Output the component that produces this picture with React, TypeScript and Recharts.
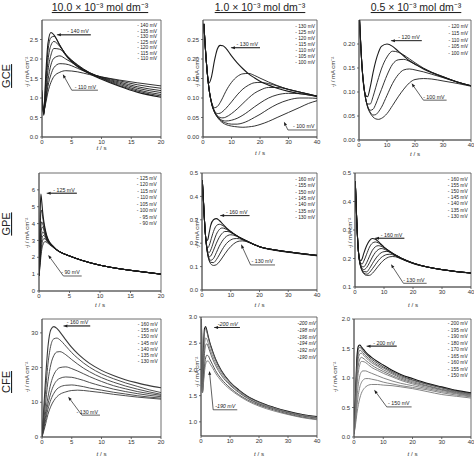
import React from "react";
import { LineChart, Line, XAxis, YAxis, ReferenceArea, ReferenceLine } from "recharts";

const FONT = "Arial, 'Liberation Sans', Helvetica, sans-serif";
const INK = "#1c1c1c";
const FRAME = "#4a4a4a";

// ---- GCE, 10.0 mM ----
const gce10T = [0, 0.3, 0.6, 1, 1.5, 2, 3, 4, 6, 8, 10, 13, 16, 20];
const gce10Mv = [140, 135, 130, 125, 120, 115, 110];
const gce10_140 = [1.2, 0.55, 1.5, 2.4, 2.68, 2.62, 2.35, 2.1, 1.8, 1.62, 1.48, 1.3, 1.15, 1.02];
const gce10_135 = [1.15, 0.58, 1.35, 2.2, 2.55, 2.58, 2.35, 2.12, 1.82, 1.63, 1.5, 1.32, 1.18, 1.05];
const gce10_130 = [1.1, 0.6, 1.2, 1.95, 2.35, 2.45, 2.32, 2.12, 1.84, 1.64, 1.51, 1.35, 1.21, 1.09];
const gce10_125 = [1.05, 0.62, 1.05, 1.7, 2.1, 2.27, 2.25, 2.1, 1.85, 1.65, 1.52, 1.38, 1.25, 1.14];
const gce10_120 = [1.0, 0.64, 0.95, 1.45, 1.85, 2.02, 2.08, 2.0, 1.82, 1.65, 1.53, 1.41, 1.29, 1.19];
const gce10_115 = [0.95, 0.66, 0.9, 1.3, 1.6, 1.78, 1.88, 1.87, 1.76, 1.63, 1.54, 1.44, 1.34, 1.25];
const gce10_110 = [0.9, 0.68, 0.85, 1.15, 1.4, 1.55, 1.66, 1.7, 1.67, 1.6, 1.54, 1.46, 1.39, 1.31];

// ---- GCE, 1.0 mM ----
const gce1T = [0.3, 1, 2, 3, 4, 5, 6, 7, 8, 10, 12, 14, 16, 18, 20, 23, 26, 30, 34, 37, 40];
const gce1Mv = [130, 125, 120, 115, 110, 105, 100];
const gce1_130 = [0.29, 0.21, 0.138, 0.155, 0.195, 0.225, 0.235, 0.234, 0.228, 0.208, 0.19, 0.175, 0.162, 0.152, 0.143, 0.133, 0.125, 0.117, 0.111, 0.108, 0.105];
const gce1_125 = [0.29, 0.21, 0.13, 0.09, 0.075, 0.078, 0.088, 0.102, 0.117, 0.14, 0.155, 0.162, 0.163, 0.158, 0.151, 0.141, 0.132, 0.122, 0.115, 0.11, 0.105];
const gce1_120 = [0.29, 0.21, 0.13, 0.088, 0.068, 0.06, 0.061, 0.066, 0.073, 0.09, 0.108, 0.123, 0.133, 0.139, 0.14, 0.137, 0.131, 0.122, 0.115, 0.11, 0.105];
const gce1_115 = [0.29, 0.21, 0.13, 0.087, 0.066, 0.055, 0.05, 0.049, 0.051, 0.06, 0.072, 0.086, 0.1, 0.112, 0.12, 0.127, 0.127, 0.122, 0.115, 0.11, 0.104];
const gce1_110 = [0.29, 0.21, 0.13, 0.087, 0.065, 0.053, 0.046, 0.042, 0.041, 0.043, 0.048, 0.056, 0.066, 0.077, 0.087, 0.1, 0.108, 0.112, 0.111, 0.108, 0.103];
const gce1_105 = [0.29, 0.21, 0.13, 0.087, 0.064, 0.052, 0.044, 0.039, 0.036, 0.033, 0.033, 0.036, 0.042, 0.05, 0.058, 0.072, 0.084, 0.095, 0.1, 0.1, 0.099];
const gce1_100 = [0.29, 0.21, 0.13, 0.086, 0.064, 0.051, 0.042, 0.036, 0.032, 0.028, 0.026, 0.025, 0.026, 0.028, 0.032, 0.04, 0.05, 0.063, 0.076, 0.086, 0.093];

// ---- GCE, 0.5 mM ----
const gce05T = [0.2, 1, 2, 3, 4, 5, 6, 7, 8, 10, 12, 14, 16, 18, 20, 23, 26, 30, 35, 40];
const gce05Mv = [120, 115, 110, 105, 100];
const gce05_120 = [0.25, 0.16, 0.1, 0.09, 0.11, 0.14, 0.165, 0.183, 0.195, 0.2, 0.195, 0.185, 0.175, 0.165, 0.158, 0.148, 0.14, 0.131, 0.121, 0.113];
const gce05_115 = [0.25, 0.16, 0.1, 0.075, 0.075, 0.09, 0.11, 0.13, 0.148, 0.173, 0.185, 0.183, 0.177, 0.169, 0.161, 0.15, 0.141, 0.132, 0.121, 0.113];
const gce05_110 = [0.25, 0.16, 0.1, 0.072, 0.062, 0.064, 0.075, 0.09, 0.105, 0.135, 0.158, 0.167, 0.168, 0.164, 0.158, 0.149, 0.141, 0.132, 0.121, 0.113];
const gce05_105 = [0.25, 0.16, 0.1, 0.071, 0.058, 0.052, 0.053, 0.059, 0.068, 0.093, 0.118, 0.136, 0.146, 0.148, 0.146, 0.142, 0.137, 0.13, 0.121, 0.113];
const gce05_100 = [0.25, 0.16, 0.1, 0.07, 0.056, 0.048, 0.044, 0.043, 0.045, 0.055, 0.072, 0.09, 0.106, 0.119, 0.126, 0.128, 0.127, 0.123, 0.118, 0.112];

// ---- GPE, 10.0 mM ----
const gpe10T = [0, 0.15, 0.3, 0.45, 0.6, 0.8, 1, 1.3, 1.7, 2.2, 3, 4, 5, 7, 10, 13, 16, 20];
const gpe10Mv = [125, 120, 115, 110, 105, 100, 95, 90];
const gpe10_125 = [0.9, 4.0, 5.75, 5.3, 4.7, 4.1, 3.7, 3.25, 2.92, 2.7, 2.42, 2.22, 2.08, 1.82, 1.53, 1.33, 1.18, 1.0];
const gpe10_120 = [0.9, 3.0, 4.6, 4.8, 4.4, 3.95, 3.6, 3.2, 2.9, 2.69, 2.42, 2.22, 2.08, 1.82, 1.53, 1.33, 1.18, 1.0];
const gpe10_115 = [0.9, 2.5, 3.8, 4.1, 4.0, 3.75, 3.5, 3.15, 2.88, 2.68, 2.42, 2.22, 2.08, 1.82, 1.53, 1.33, 1.18, 1.0];
const gpe10_110 = [0.9, 2.2, 3.3, 3.75, 3.8, 3.6, 3.4, 3.1, 2.86, 2.67, 2.42, 2.22, 2.08, 1.82, 1.53, 1.33, 1.18, 1.0];
const gpe10_105 = [0.9, 2.0, 2.9, 3.35, 3.5, 3.45, 3.3, 3.05, 2.84, 2.66, 2.42, 2.22, 2.08, 1.82, 1.53, 1.33, 1.18, 1.0];
const gpe10_100 = [0.9, 1.8, 2.6, 3.05, 3.25, 3.3, 3.2, 3.0, 2.82, 2.65, 2.42, 2.22, 2.08, 1.82, 1.53, 1.33, 1.18, 1.0];
const gpe10_95 = [0.9, 1.6, 2.3, 2.75, 3.0, 3.1, 3.1, 2.95, 2.8, 2.64, 2.41, 2.22, 2.08, 1.82, 1.53, 1.33, 1.18, 1.0];
const gpe10_90 = [0.9, 1.4, 2.0, 2.45, 2.7, 2.88, 2.93, 2.88, 2.76, 2.62, 2.4, 2.21, 2.07, 1.82, 1.53, 1.33, 1.18, 1.0];

// ---- GPE, 1.0 mM ----
const gpe1T = [0.1, 0.5, 1, 1.5, 2, 2.5, 3, 4, 5, 6, 7, 8, 9, 10, 11, 12, 13, 14, 16, 18, 20, 25, 30, 35, 40];
const gpe1Mv = [160, 155, 150, 145, 140, 135, 130];
const gpe1_160 = [0.47, 0.38, 0.27, 0.21, 0.215, 0.245, 0.275, 0.3, 0.305, 0.297, 0.285, 0.272, 0.26, 0.25, 0.241, 0.233, 0.225, 0.219, 0.207, 0.195, 0.185, 0.172, 0.163, 0.155, 0.148];
const gpe1_155 = [0.47, 0.38, 0.27, 0.2, 0.18, 0.19, 0.21, 0.25, 0.275, 0.281, 0.277, 0.268, 0.258, 0.249, 0.241, 0.233, 0.225, 0.219, 0.207, 0.195, 0.185, 0.172, 0.163, 0.155, 0.148];
const gpe1_150 = [0.47, 0.38, 0.27, 0.198, 0.165, 0.16, 0.17, 0.205, 0.238, 0.258, 0.265, 0.262, 0.255, 0.247, 0.24, 0.232, 0.225, 0.219, 0.207, 0.195, 0.185, 0.172, 0.163, 0.155, 0.148];
const gpe1_145 = [0.47, 0.38, 0.27, 0.197, 0.158, 0.142, 0.145, 0.17, 0.2, 0.225, 0.242, 0.25, 0.25, 0.245, 0.239, 0.232, 0.225, 0.218, 0.206, 0.195, 0.185, 0.172, 0.163, 0.155, 0.148];
const gpe1_140 = [0.47, 0.38, 0.27, 0.196, 0.155, 0.134, 0.127, 0.135, 0.16, 0.187, 0.208, 0.224, 0.233, 0.236, 0.234, 0.23, 0.224, 0.218, 0.206, 0.195, 0.185, 0.172, 0.163, 0.155, 0.148];
const gpe1_135 = [0.47, 0.38, 0.27, 0.195, 0.152, 0.128, 0.118, 0.117, 0.13, 0.15, 0.172, 0.191, 0.205, 0.214, 0.219, 0.22, 0.219, 0.215, 0.205, 0.194, 0.185, 0.171, 0.162, 0.154, 0.147];
const gpe1_130 = [0.47, 0.38, 0.27, 0.195, 0.15, 0.125, 0.112, 0.105, 0.108, 0.12, 0.137, 0.155, 0.172, 0.186, 0.197, 0.205, 0.209, 0.21, 0.205, 0.194, 0.184, 0.17, 0.161, 0.153, 0.146];

// ---- GPE, 0.5 mM ----
const gpe05T = [0.1, 0.5, 1, 1.5, 2, 2.5, 3, 4, 5, 6, 7, 8, 9, 10, 11, 12, 13, 14, 16, 18, 20, 25, 30, 35, 40];
const gpe05Mv = [160, 155, 150, 145, 140, 135, 130];
const gpe05_160 = [0.47, 0.36, 0.25, 0.2, 0.192, 0.2, 0.217, 0.245, 0.263, 0.27, 0.268, 0.26, 0.25, 0.24, 0.232, 0.225, 0.218, 0.212, 0.201, 0.192, 0.184, 0.17, 0.161, 0.154, 0.149];
const gpe05_155 = [0.47, 0.36, 0.25, 0.198, 0.182, 0.181, 0.19, 0.215, 0.24, 0.254, 0.258, 0.255, 0.248, 0.24, 0.232, 0.225, 0.218, 0.212, 0.201, 0.192, 0.184, 0.17, 0.161, 0.154, 0.149];
const gpe05_150 = [0.47, 0.36, 0.25, 0.197, 0.178, 0.171, 0.171, 0.185, 0.208, 0.229, 0.241, 0.245, 0.243, 0.237, 0.231, 0.224, 0.218, 0.212, 0.201, 0.192, 0.184, 0.17, 0.161, 0.154, 0.149];
const gpe05_145 = [0.47, 0.36, 0.25, 0.196, 0.175, 0.164, 0.161, 0.168, 0.185, 0.205, 0.221, 0.231, 0.235, 0.233, 0.228, 0.222, 0.216, 0.21, 0.2, 0.191, 0.184, 0.17, 0.161, 0.154, 0.149];
const gpe05_140 = [0.47, 0.36, 0.25, 0.195, 0.172, 0.16, 0.154, 0.153, 0.165, 0.182, 0.198, 0.211, 0.22, 0.224, 0.225, 0.222, 0.217, 0.211, 0.2, 0.191, 0.183, 0.17, 0.161, 0.154, 0.149];
const gpe05_135 = [0.47, 0.36, 0.25, 0.195, 0.17, 0.157, 0.149, 0.145, 0.151, 0.164, 0.178, 0.192, 0.203, 0.21, 0.214, 0.215, 0.213, 0.209, 0.199, 0.19, 0.183, 0.17, 0.161, 0.154, 0.149];
const gpe05_130 = [0.47, 0.36, 0.25, 0.194, 0.169, 0.155, 0.147, 0.141, 0.141, 0.148, 0.16, 0.173, 0.185, 0.195, 0.202, 0.206, 0.207, 0.206, 0.198, 0.19, 0.182, 0.17, 0.161, 0.154, 0.149];

// ---- CFE, 10.0 mM ----
const cfe10T = [0, 0.5, 1, 1.5, 2, 2.5, 3, 4, 5, 6, 7, 8, 10, 12, 14, 16, 18, 20];
const cfe10Mv = [160, 155, 150, 145, 140, 135, 130];
const cfe10_160 = [0, 14, 26, 31, 31.8, 31.3, 30.3, 28, 25.8, 24, 22.5, 21.2, 19.2, 17.7, 16.5, 15.6, 14.8, 14.2];
const cfe10_155 = [0, 11, 21, 26.5, 28.3, 28.5, 28, 26.2, 24.3, 22.7, 21.3, 20.1, 18.2, 16.8, 15.6, 14.6, 13.6, 12.8];
const cfe10_150 = [0, 8, 16, 21, 23.5, 24.5, 24.6, 23.7, 22.3, 21, 19.8, 18.8, 17.1, 15.8, 14.7, 13.8, 13.0, 12.3];
const cfe10_145 = [0, 6, 11.5, 15.5, 18, 19.4, 20, 20.2, 19.7, 19, 18.2, 17.4, 16, 14.8, 13.9, 13.1, 12.5, 12.0];
const cfe10_140 = [0, 5, 9.5, 12.8, 15, 16.3, 16.9, 17.3, 17.2, 16.8, 16.3, 15.7, 14.7, 13.8, 13.1, 12.5, 12.0, 11.6];
const cfe10_135 = [0, 4, 8, 10.8, 12.6, 13.8, 14.4, 14.9, 15, 14.8, 14.5, 14.1, 13.5, 12.9, 12.4, 11.9, 11.5, 11.2];
const cfe10_130 = [0, 3, 6.5, 8.9, 10.5, 11.6, 12.3, 13, 13.4, 13.5, 13.4, 13.2, 12.8, 12.3, 11.9, 11.5, 11.2, 10.9];

// ---- CFE, 1.0 mM ----
const cfe1T = [0.15, 0.5, 0.8, 1.2, 1.6, 2, 2.5, 3, 4, 5, 7, 10, 13, 16, 20, 25, 30, 35, 40];
const cfe1Mv = [200, 198, 196, 194, 192, 190];
const cfe1_200 = [2.95, 1.6, 2.3, 2.78, 2.82, 2.75, 2.63, 2.52, 2.35, 2.2, 1.98, 1.76, 1.61, 1.49, 1.38, 1.28, 1.2, 1.14, 1.1];
const cfe1_198 = [2.95, 1.6, 2.2, 2.7, 2.78, 2.72, 2.6, 2.5, 2.33, 2.19, 1.97, 1.75, 1.6, 1.48, 1.37, 1.27, 1.19, 1.13, 1.09];
const cfe1_196 = [2.95, 1.58, 2.0, 2.45, 2.6, 2.58, 2.5, 2.41, 2.26, 2.13, 1.93, 1.72, 1.58, 1.46, 1.35, 1.26, 1.18, 1.12, 1.08];
const cfe1_194 = [2.95, 1.57, 1.9, 2.3, 2.46, 2.49, 2.43, 2.35, 2.2, 2.08, 1.89, 1.7, 1.56, 1.45, 1.34, 1.25, 1.17, 1.11, 1.07];
const cfe1_192 = [2.95, 1.56, 1.75, 2.05, 2.22, 2.27, 2.26, 2.2, 2.09, 1.98, 1.82, 1.65, 1.52, 1.42, 1.32, 1.23, 1.15, 1.09, 1.05];
const cfe1_190 = [2.95, 1.55, 1.7, 1.95, 2.1, 2.16, 2.16, 2.12, 2.03, 1.93, 1.78, 1.62, 1.5, 1.4, 1.3, 1.21, 1.14, 1.08, 1.04];

// ---- CFE, 0.5 mM ----
const cfe05T = [0, 0.5, 1, 1.5, 2, 2.5, 3, 4, 5, 6, 8, 10, 13, 16, 20, 25, 30, 35, 40];
const cfe05Mv = [200, 195, 190, 180, 170, 165, 160, 155, 150];
const cfe05_200 = [0.05, 0.7, 1.35, 1.54, 1.56, 1.53, 1.5, 1.44, 1.39, 1.35, 1.28, 1.22, 1.13, 1.06, 0.99, 0.91, 0.85, 0.79, 0.75];
const cfe05_195 = [0.05, 0.62, 1.27, 1.49, 1.52, 1.5, 1.47, 1.41, 1.36, 1.32, 1.25, 1.19, 1.11, 1.04, 0.97, 0.9, 0.84, 0.78, 0.74];
const cfe05_190 = [0.05, 0.55, 1.18, 1.41, 1.47, 1.46, 1.43, 1.38, 1.33, 1.29, 1.22, 1.17, 1.09, 1.02, 0.96, 0.89, 0.83, 0.77, 0.73];
const cfe05_180 = [0.05, 0.5, 1.08, 1.33, 1.41, 1.42, 1.4, 1.35, 1.3, 1.26, 1.2, 1.14, 1.07, 1.0, 0.94, 0.87, 0.81, 0.76, 0.72];
const cfe05_170 = [0.05, 0.44, 0.96, 1.22, 1.32, 1.35, 1.34, 1.3, 1.26, 1.22, 1.16, 1.11, 1.04, 0.98, 0.92, 0.86, 0.8, 0.75, 0.71];
const cfe05_165 = [0.05, 0.38, 0.85, 1.1, 1.23, 1.28, 1.28, 1.26, 1.22, 1.18, 1.13, 1.08, 1.02, 0.96, 0.9, 0.84, 0.79, 0.74, 0.7];
const cfe05_160 = [0.05, 0.3, 0.66, 0.9, 1.04, 1.1, 1.12, 1.12, 1.1, 1.08, 1.04, 1.0, 0.95, 0.91, 0.87, 0.82, 0.77, 0.73, 0.69];
const cfe05_155 = [0.05, 0.25, 0.52, 0.72, 0.85, 0.92, 0.96, 0.99, 0.99, 0.98, 0.96, 0.93, 0.9, 0.87, 0.84, 0.8, 0.75, 0.71, 0.68];
const cfe05_150 = [0.05, 0.2, 0.4, 0.55, 0.66, 0.74, 0.79, 0.85, 0.88, 0.89, 0.89, 0.88, 0.87, 0.85, 0.82, 0.77, 0.72, 0.69, 0.66];

type Pt = [number, number];
type Note = { tip: Pt; bend?: Pt; end: Pt; text: string };
type Panel = {
  box: { l: number; t: number; r: number; b: number };
  xMax: number;
  xTicks: number[];
  yDomain: [number, number];
  yTicks: number[];
  yDigits: number;
  times: number[];
  mv: number[];
  series: number[][];
  colors?: string[];
  legend: { x: number; y: number; step: number; tight?: boolean };
  yLabel: { x: number; y: number };
  xLabelY: number;
  notes: Note[];
  italic?: boolean;
};

const panels: Panel[] = [
  {
    box: { l: 42, t: 20, r: 161, b: 137 },
    xMax: 20, xTicks: [0, 5, 10, 15, 20],
    yDomain: [0, 3], yTicks: [0, 0.5, 1, 1.5, 2, 2.5], yDigits: 1,
    times: gce10T, mv: gce10Mv,
    series: [gce10_140, gce10_135, gce10_130, gce10_125, gce10_120, gce10_115, gce10_110],
    legend: { x: 157, y: 27, step: 5.55 },
    yLabel: { x: 29, y: 72 }, xLabelY: 150,
    notes: [
      { tip: [2.5, 2.62], end: [8.2, 2.62], text: "- 140 mV" },
      { tip: [3.5, 1.61], bend: [5.0, 1.2], end: [9.4, 1.2], text: "- 110 mV" },
    ],
  },
  {
    box: { l: 203, t: 20, r: 317, b: 137 },
    xMax: 40, xTicks: [0, 10, 20, 30, 40],
    yDomain: [0, 0.3], yTicks: [0, 0.05, 0.1, 0.15, 0.2, 0.25], yDigits: 2,
    times: gce1T, mv: gce1Mv,
    series: [gce1_130, gce1_125, gce1_120, gce1_115, gce1_110, gce1_105, gce1_100],
    legend: { x: 315, y: 27.7, step: 6 },
    yLabel: { x: 199, y: 72 }, xLabelY: 155,
    notes: [
      { tip: [9.8, 0.229], end: [20, 0.229], text: "- 130 mV" },
      { tip: [28.4, 0.039], bend: [29.8, 0.018], end: [39.8, 0.018], text: "- 100 mV" },
    ],
  },
  {
    box: { l: 359, t: 20, r: 471, b: 140 },
    xMax: 40, xTicks: [0, 10, 20, 30, 40],
    yDomain: [0, 0.25], yTicks: [0, 0.05, 0.1, 0.15, 0.2], yDigits: 2,
    times: gce05T, mv: gce05Mv,
    series: [gce05_120, gce05_115, gce05_110, gce05_105, gce05_100],
    legend: { x: 468, y: 28, step: 6.8 },
    yLabel: { x: 335, y: 72 }, xLabelY: 156,
    notes: [
      { tip: [11.4, 0.207], end: [22.4, 0.207], text: "- 120 mV" },
      { tip: [18.8, 0.118], bend: [23, 0.083], end: [31.3, 0.083], text: "- 100 mV" },
    ],
  },
  {
    box: { l: 39, t: 173, r: 161, b: 291 },
    xMax: 20, xTicks: [0, 5, 10, 15, 20],
    yDomain: [0, 7], yTicks: [0, 1, 2, 3, 4, 5, 6], yDigits: 0,
    times: gpe10T, mv: gpe10Mv,
    series: [gpe10_125, gpe10_120, gpe10_115, gpe10_110, gpe10_105, gpe10_100, gpe10_95, gpe10_90],
    legend: { x: 156.7, y: 179.7, step: 6.5 },
    yLabel: { x: 29, y: 233 }, xLabelY: 307,
    notes: [
      { tip: [1.26, 5.8], end: [6.2, 5.8], text: "- 125 mV" },
      { tip: [1.5, 2.14], bend: [4.0, 0.89], end: [7.0, 0.89], text: "- 90 mV" },
    ],
  },
  {
    box: { l: 202, t: 173, r: 317, b: 290 },
    xMax: 40, xTicks: [0, 10, 20, 30, 40],
    yDomain: [0, 0.5], yTicks: [0, 0.1, 0.2, 0.3, 0.4, 0.5], yDigits: 1,
    times: gpe1T, mv: gpe1Mv,
    series: [gpe1_160, gpe1_155, gpe1_150, gpe1_145, gpe1_140, gpe1_135, gpe1_130],
    legend: { x: 315, y: 181, step: 6.3 },
    yLabel: { x: 199, y: 233 }, xLabelY: 307,
    notes: [
      { tip: [6.3, 0.318], end: [16.5, 0.318], text: "- 160 mV" },
      { tip: [13.6, 0.195], bend: [16.9, 0.107], end: [25.4, 0.107], text: "- 130 mV" },
    ],
  },
  {
    box: { l: 355, t: 173, r: 471, b: 287 },
    xMax: 40, xTicks: [0, 10, 20, 30, 40],
    yDomain: [0.1, 0.5], yTicks: [0.1, 0.2, 0.3, 0.4, 0.5], yDigits: 1,
    times: gpe05T, mv: gpe05Mv,
    series: [gpe05_160, gpe05_155, gpe05_150, gpe05_145, gpe05_140, gpe05_135, gpe05_130],
    legend: { x: 467.7, y: 181, step: 6.1 },
    yLabel: { x: 352, y: 233 }, xLabelY: 307,
    notes: [
      { tip: [6.9, 0.271], end: [17, 0.271], text: "- 160 mV" },
      { tip: [12.4, 0.18], bend: [16.7, 0.113], end: [24.7, 0.113], text: "- 130 mV" },
    ],
  },
  {
    box: { l: 42, t: 319, r: 161, b: 437 },
    xMax: 20, xTicks: [0, 5, 10, 15, 20],
    yDomain: [0, 34], yTicks: [0, 10, 20, 30], yDigits: 0,
    times: cfe10T, mv: cfe10Mv,
    series: [cfe10_160, cfe10_155, cfe10_150, cfe10_145, cfe10_140, cfe10_135, cfe10_130],
    colors: ["#3a3a3a", "#3a3a3a", "#3a3a3a", "#3a3a3a", "#3a3a3a", "#3a3a3a", "#3a3a3a"],
    legend: { x: 157.7, y: 326, step: 6.2 },
    yLabel: { x: 29, y: 377 }, xLabelY: 456,
    notes: [
      { tip: [3.6, 32], end: [8.1, 32], text: "- 160 mV" },
      { tip: [4.4, 11.6], bend: [6.7, 6.3], end: [9.75, 6.3], text: "- 130 mV" },
    ],
  },
  {
    box: { l: 201, t: 317, r: 317, b: 436 },
    xMax: 40, xTicks: [0, 10, 20, 30, 40],
    yDomain: [0.73, 3], yTicks: [1, 1.5, 2, 2.5, 3], yDigits: 1,
    times: cfe1T, mv: cfe1Mv,
    series: [cfe1_200, cfe1_198, cfe1_196, cfe1_194, cfe1_192, cfe1_190],
    colors: ["#111", "#666", "#777", "#555", "#444", "#777"],
    legend: { x: 316, y: 325.3, step: 6.7, tight: true },
    yLabel: { x: 199, y: 372 }, xLabelY: 456,
    italic: true,
    notes: [
      { tip: [4.5, 2.8], end: [13.4, 2.8], text: "-200 mV" },
      { tip: [2.9, 1.97], bend: [4.2, 1.23], end: [12.5, 1.23], text: "-190 mV" },
    ],
  },
  {
    box: { l: 354, t: 319, r: 471, b: 437 },
    xMax: 40, xTicks: [0, 10, 20, 30, 40],
    yDomain: [0, 2], yTicks: [0, 0.5, 1, 1.5, 2], yDigits: 1,
    times: cfe05T, mv: cfe05Mv,
    series: [cfe05_200, cfe05_195, cfe05_190, cfe05_180, cfe05_170, cfe05_165, cfe05_160, cfe05_155, cfe05_150],
    colors: ["#111", "#333", "#555", "#666", "#666", "#777", "#777", "#777", "#777"],
    legend: { x: 467.7, y: 325.3, step: 6.46 },
    yLabel: { x: 337, y: 377 }, xLabelY: 456,
    notes: [
      { tip: [4.3, 1.54], end: [14.6, 1.54], text: "- 200 mV" },
      { tip: [6.9, 0.8], bend: [11.2, 0.51], end: [19.7, 0.51], text: "- 150 mV" },
    ],
  },
];

const titles = [
  { x: 100, text: "10.0 × 10⁻³ mol dm⁻³" },
  { x: 260, text: "1.0 × 10⁻³ mol dm⁻³" },
  { x: 416, text: "0.5 × 10⁻³ mol dm⁻³" },
];
const rows = [
  { y: 76, text: "GCE" },
  { y: 224, text: "GPE" },
  { y: 382, text: "CFE" },
];

const Y_W = 28;
const M_T = 4;
const M_R = 4;
const X_H = 14;

function ArrowSeg(props: any) {
  const { x1, y1, x2, y2 } = props;
  const a = Math.atan2(y1 - y2, x1 - x2);
  const len = 4;
  const w = 1.5;
  const bx = x1 - len * Math.cos(a);
  const by = y1 - len * Math.sin(a);
  const px = -Math.sin(a) * w;
  const py = Math.cos(a) * w;
  return (
    <g>
      <line x1={bx} y1={by} x2={x2} y2={y2} stroke={INK} strokeWidth={0.7} />
      <polygon points={`${x1},${y1} ${bx + px},${by + py} ${bx - px},${by - py}`} fill={INK} />
    </g>
  );
}

function TextSeg(props: any) {
  const { x1, y1, x2, y2, text, italic } = props;
  return (
    <g>
      <line x1={x1} y1={y1} x2={x2} y2={y2} stroke={INK} strokeWidth={0.7} />
      <text
        x={x2 - 2}
        y={y2 - 1.6}
        textAnchor="end"
        fontSize={5.3}
        fontStyle={italic ? "italic" : "normal"}
        fontFamily={FONT}
        fill={INK}
      >
        {text}
      </text>
    </g>
  );
}

function PanelChart({ p }: { p: Panel }) {
  const w = p.box.r - p.box.l + Y_W + M_R;
  const h = p.box.b - p.box.t + M_T + X_H;
  const tick = { fontSize: 6, fill: "#333", fontFamily: FONT };
  return (
    <div style={{ position: "absolute", left: p.box.l - Y_W, top: p.box.t - M_T }}>
      <LineChart width={w} height={h} margin={{ top: M_T, right: M_R, bottom: 0, left: 0 }}>
        <XAxis
          type="number"
          dataKey="t"
          domain={[0, p.xMax]}
          ticks={p.xTicks}
          allowDataOverflow
          height={X_H}
          tickSize={2}
          tickMargin={1}
          tick={tick}
          stroke={FRAME}
          strokeWidth={0.8}
          interval={0}
        />
        <YAxis
          type="number"
          domain={p.yDomain}
          ticks={p.yTicks}
          allowDataOverflow
          width={Y_W}
          tickSize={2}
          tickMargin={2}
          tick={tick}
          stroke={FRAME}
          strokeWidth={0.8}
          interval={0}
          tickFormatter={(v: number) => v.toFixed(p.yDigits)}
        />
        <ReferenceArea
          x1={0}
          x2={p.xMax}
          y1={p.yDomain[0]}
          y2={p.yDomain[1]}
          fill="none"
          fillOpacity={0}
          stroke={FRAME}
          strokeWidth={0.8}
          ifOverflow="visible"
        />
        {p.series.map((vals, i) => (
          <Line
            key={p.mv[i]}
            data={p.times.map((t, k) => ({ t, j: vals[k] }))}
            dataKey="j"
            type="monotone"
            dot={false}
            stroke={p.colors ? p.colors[i] : INK}
            strokeWidth={i === 0 ? 1.1 : 0.9}
            isAnimationActive={false}
          />
        ))}
        {p.notes.map((n, i) => (
          <ReferenceLine
            key={"a" + i}
            segment={[
              { x: n.tip[0], y: n.tip[1] },
              { x: (n.bend ?? n.end)[0], y: (n.bend ?? n.end)[1] },
            ]}
            ifOverflow="visible"
            shape={(sp: any) => <ArrowSeg {...sp} />}
          />
        ))}
        {p.notes.map((n, i) => (
          <ReferenceLine
            key={"t" + i}
            segment={[
              { x: (n.bend ?? n.tip)[0], y: (n.bend ?? n.tip)[1] },
              { x: n.end[0], y: n.end[1] },
            ]}
            ifOverflow="visible"
            shape={(sp: any) => <TextSeg {...sp} text={n.text} italic={p.italic} />}
          />
        ))}
      </LineChart>
    </div>
  );
}

export default function App() {
  return (
    <div
      style={{
        position: "absolute",
        left: 0,
        top: 0,
        width: 474,
        height: 457,
        background: "#fff",
        overflow: "hidden",
        fontFamily: FONT,
      }}
    >
      {panels.map((p, i) => (
        <PanelChart key={i} p={p} />
      ))}
      <svg
        width={474}
        height={457}
        style={{ position: "absolute", left: 0, top: 0, pointerEvents: "none" }}
      >
        {titles.map((t) => (
          <text
            key={t.text}
            x={t.x}
            y={11}
            textAnchor="middle"
            fontSize={10.5}
            fontFamily={FONT}
            fill="#222"
            textDecoration="underline"
          >
            {t.text}
          </text>
        ))}
        {rows.map((r) => (
          <text
            key={r.text}
            transform={`translate(10,${r.y}) rotate(-90)`}
            textAnchor="middle"
            fontSize={11}
            fontFamily={FONT}
            fill="#222"
            textDecoration="underline"
          >
            {r.text}
          </text>
        ))}
        {panels.map((p, i) => (
          <g key={"lab" + i}>
            <text
              x={(p.box.l + p.box.r) / 2}
              y={p.xLabelY}
              textAnchor="middle"
              fontSize={6.2}
              fontFamily={FONT}
              fill="#333"
            >
              <tspan fontStyle="italic">t</tspan> / s
            </text>
            <text
              transform={`translate(${p.yLabel.x},${p.yLabel.y}) rotate(-90)`}
              textAnchor="middle"
              fontSize={6}
              fontFamily={FONT}
              fill="#333"
            >
              -<tspan fontStyle="italic">j</tspan> / mA cm⁻²
            </text>
            {p.mv.map((m, k) => (
              <text
                key={m}
                x={p.legend.x}
                y={p.legend.y + k * p.legend.step}
                textAnchor="end"
                fontSize={4.9}
                fontStyle={p.italic ? "italic" : "normal"}
                fontFamily={FONT}
                fill="#222"
              >
                {p.legend.tight ? `-${m} mV` : `- ${m} mV`}
              </text>
            ))}
          </g>
        ))}
      </svg>
    </div>
  );
}
